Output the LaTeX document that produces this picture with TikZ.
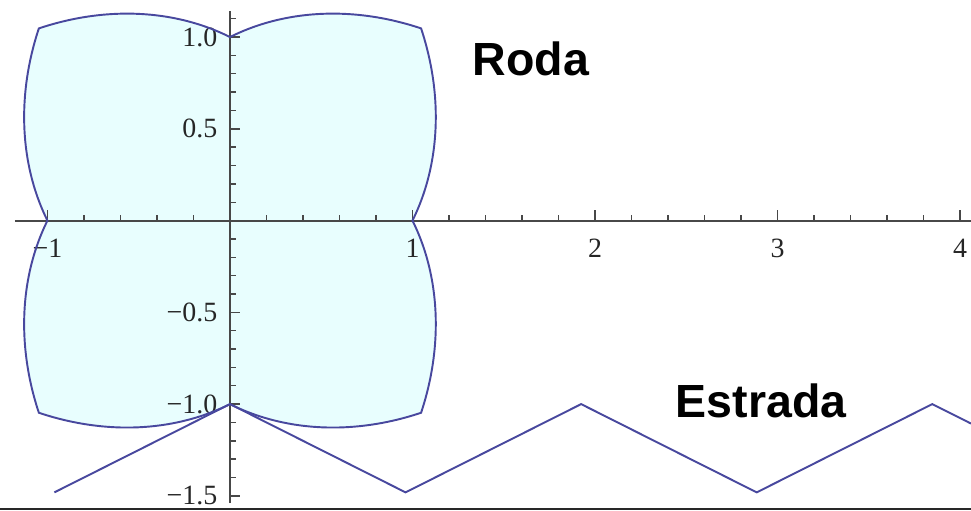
\documentclass[tikz,border=0pt]{standalone}
\usepackage{fontspec}
\setmainfont{Liberation Serif}
\newfontfamily\labfont{Liberation Sans}
\usetikzlibrary{positioning}
\definecolor{WheelBlue}{RGB}{72,72,158}
\definecolor{WheelFill}{RGB}{232,254,254}
\definecolor{AxisGray}{RGB}{72,72,72}
\definecolor{FrameDark}{RGB}{40,40,40}
\tikzset{
  axisline/.style ={draw=AxisGray, line width=.65pt},
  tickline/.style ={draw=AxisGray, line width=.45pt},
  ticklab/.style  ={inner sep=0pt, text=black!85, font=\fontsize{8.7}{10}\selectfont},
  wheel/.style    ={draw=WheelBlue, line width=.6pt, line join=miter},
  road/.style     ={draw=WheelBlue, line width=.6pt, line join=miter},
  biglab/.style   ={inner sep=0pt, text=black, font=\labfont\bfseries\fontsize{14.5}{16}\selectfont},
}
\newcommand{\rwheel}{exp(0.5*rad(min(mod(\x,90),90-mod(\x,90))))}

\begin{document}
\begin{tikzpicture}[x=2cm,y=2.011cm]
  \useasboundingbox (-1.26,-1.578) rectangle (4.06,1.202);

  % wheel fill
  \fill[WheelFill] plot[domain=0:360,samples=361] (\x:{\rwheel}) -- cycle;

  % axes and ticks
  \draw[axisline] (-1.178,0) -- (4.06,0);
  \draw[axisline] (0,-1.54) -- (0,1.14);
  \foreach \i in {-5,...,20}
    \draw[tickline] (\i/5,0) -- (\i/5,0.033);
  \foreach \i in {-1,1,2,3,4}
    \draw[tickline] (\i,0) -- (\i,0.055);
  \foreach \i in {-15,...,11}
    \draw[tickline] (0,\i/10) -- (0.033,\i/10);
  \foreach \i in {-1.5,-1,-0.5,0.5,1}
    \draw[tickline] (0,\i) -- (0.055,\i);

  \node[ticklab,anchor=east] (y10)  at (-0.066,1)    {1.0};
  \node[ticklab,anchor=east] (y05)  at (-0.066,0.5)  {0.5};
  \node[ticklab,anchor=east] (ym05) at (-0.066,-0.5) {−0.5};
  \node[ticklab,anchor=east] (ym10) at (-0.066,-1)   {−1.0};
  \node[ticklab,anchor=east] (ym15) at (-0.066,-1.5) {−1.5};
  \node[ticklab,anchor=north] (xm1) at (-1,-0.095) {−1};
  \node[ticklab,anchor=north] (x1)  at (1,-0.095)  {1};
  \node[ticklab,anchor=north] (x2)  at (2,-0.095)  {2};
  \node[ticklab,anchor=north] (x3)  at (3,-0.095)  {3};
  \node[ticklab,anchor=north] (x4)  at (4,-0.095)  {4};

  % wheel outline and road
  \draw[wheel] plot[domain=0:360,samples=361] (\x:{\rwheel}) -- cycle;
  \draw[road] (-0.962,-1.481) -- (0,-1) -- (0.962,-1.481) -- (1.924,-1)
    -- (2.886,-1.481) -- (3.848,-1) -- (4.06,-1.106);

  \node[biglab] (roda)    at (1.649,0.88)   {Roda};
  \node[biglab] (estrada) at (2.91,-0.984)  {Estrada};

  \fill[FrameDark] (-1.26,-1.578) rectangle (4.06,-1.567);
\end{tikzpicture}
\end{document}
